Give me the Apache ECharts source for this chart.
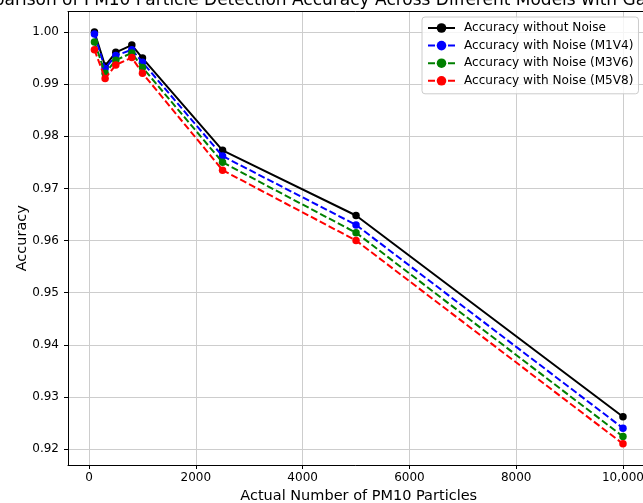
<!DOCTYPE html>
<html>
<head>
<meta charset="utf-8">
<script src="https://cdn.jsdelivr.net/npm/echarts@6/dist/echarts.min.js"></script>
<style>
  html, body { margin: 0; padding: 0; background: #fff; }
  #chart { width: 643px; height: 503px; }
</style>
</head>
<body>
<div id="chart"></div>
<script>
// particle counts on the x axis
const particleCounts = [100, 300, 500, 800, 1000, 2500, 5000, 10000]

// accuracy per model
const accNoNoise = [1.0000, 0.9935, 0.9961, 0.9975, 0.9950, 0.9773, 0.9648, 0.9262]
const accM1V4 = [0.9996, 0.9930, 0.9955, 0.9966, 0.9942, 0.9762, 0.9630, 0.9240]
const accM3V6 = [0.9981, 0.9921, 0.9946, 0.9960, 0.9932, 0.9750, 0.9615, 0.9224]
const accM5V8 = [0.9966, 0.9911, 0.9937, 0.9951, 0.9921, 0.9735, 0.9600, 0.9210]

const xTicks = [0, 2000, 4000, 6000, 8000, 10000]
const yTicks = [0.92, 0.93, 0.94, 0.95, 0.96, 0.97, 0.98, 0.99, 1.00]

const seriesNames = [
  'Accuracy without Noise',
  'Accuracy with Noise (M1V4)',
  'Accuracy with Noise (M3V6)',
  'Accuracy with Noise (M5V8)'
]
const seriesColors = ['#000000', '#0000ff', '#008000', '#ff0000']
const seriesValues = [accNoNoise, accM1V4, accM3V6, accM5V8]

const FONT = 'DejaVu Sans'

function pairs(values) {
  return particleCounts.map((x, i) => [x, values[i]])
}

const chart = echarts.init(document.getElementById('chart'), null, { renderer: 'canvas' })

// top / right spines only
const frameAxis = {
  axisLine: { show: true, onZero: false, lineStyle: { color: '#000', width: 1 } },
  axisTick: { show: false },
  axisLabel: { show: false },
  splitLine: { show: false }
}

const option = {
  animation: false,
  backgroundColor: '#fff',
  graphic: [{
    type: 'text',
    x: 354,
    y: 9,
    style: {
      text: 'Comparison of PM10 Particle Detection Accuracy Across Different Models with Gaussian Noise',
      font: '17px "' + FONT + '"',
      fill: '#000',
      textAlign: 'center',
      textVerticalAlign: 'bottom'
    }
  }],
  grid: {
    left: 68, top: 11.4, width: 581.4, height: 453.6,
    containLabel: false,
    outerBoundsMode: 'none'
  },
  legend: {
    orient: 'vertical',
    left: 422,
    top: 17,
    padding: [5, 5, 7, 5],
    itemWidth: 27,
    itemHeight: 12,
    itemGap: 5.6,
    backgroundColor: 'rgba(255,255,255,0.8)',
    borderColor: '#cccccc',
    borderWidth: 1,
    borderRadius: 3,
    textStyle: { fontFamily: FONT, fontSize: 12.1, color: '#000', padding: [0, 0, 0, 4] },
    data: seriesNames
  },
  xAxis: [{
    type: 'value',
    min: -395,
    max: 10495,
    name: 'Actual Number of PM10 Particles',
    nameLocation: 'middle',
    nameGap: 24,
    nameMoveOverlap: false,
    nameTextStyle: { fontFamily: FONT, fontSize: 14.5, color: '#000' },
    axisLine: { show: true, onZero: false, lineStyle: { color: '#000', width: 1 } },
    axisTick: { show: true, length: 4, customValues: xTicks, lineStyle: { color: '#000' } },
    axisLabel: {
      customValues: xTicks,
      margin: 7,
      fontFamily: FONT,
      fontSize: 12,
      color: '#000',
      formatter: v => (v >= 10000 ? '10,000' : String(v))
    },
    splitLine: { show: true, lineStyle: { color: '#cdcdcd', width: 1 } }
  }, Object.assign({ type: 'value', position: 'top', min: -395, max: 10495 }, frameAxis)],
  yAxis: [{
    type: 'value',
    min: 0.91693,
    max: 1.00396,
    name: 'Accuracy',
    nameLocation: 'middle',
    nameGap: 38,
    nameMoveOverlap: false,
    nameTextStyle: { fontFamily: FONT, fontSize: 14.5, color: '#000' },
    axisLine: { show: true, onZero: false, lineStyle: { color: '#000', width: 1 } },
    axisTick: { show: true, length: 4, customValues: yTicks, lineStyle: { color: '#000' } },
    axisLabel: {
      customValues: yTicks,
      margin: 9,
      fontFamily: FONT,
      fontSize: 12,
      color: '#000',
      formatter: v => v.toFixed(2)
    },
    splitLine: { show: true, lineStyle: { color: '#cdcdcd', width: 1 } }
  }, Object.assign({ type: 'value', position: 'right', min: 0.91693, max: 1.00396 }, frameAxis)],
  series: seriesNames.map((name, i) => ({
    name: name,
    type: 'line',
    data: pairs(seriesValues[i]),
    symbol: 'circle',
    symbolSize: 7.5,
    z: 2 + i,
    itemStyle: { color: seriesColors[i] },
    lineStyle: {
      color: seriesColors[i],
      width: 2,
      type: i === 0 ? 'solid' : [7, 3]
    }
  }))
}

chart.setOption(option)
</script>
</body>
</html>
